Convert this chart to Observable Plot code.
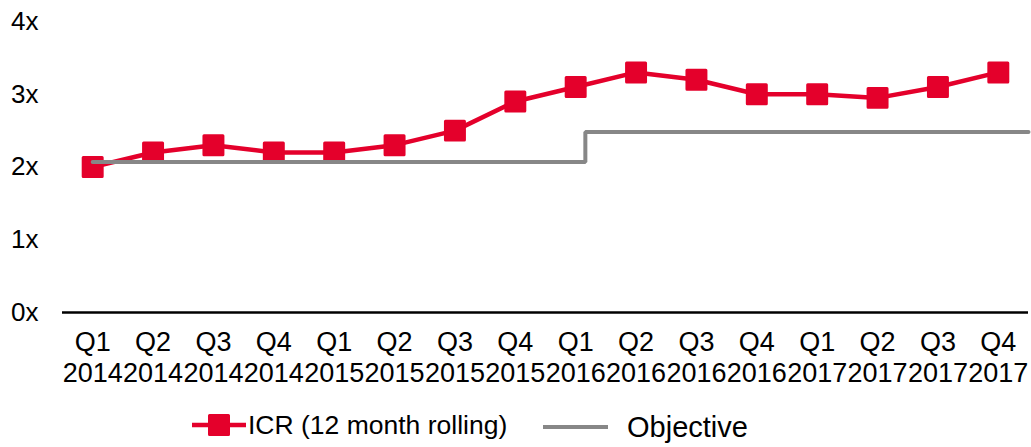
<!DOCTYPE html>
<html>
<head>
<meta charset="utf-8">
<script src="https://cdn.jsdelivr.net/npm/d3@7"></script>
<script src="https://cdn.jsdelivr.net/npm/@observablehq/plot@0.6"></script>
<style>
  html, body { margin: 0; padding: 0; background: #fff; }
  body { font-family: "Liberation Sans", Arial, sans-serif; color: #000; }
  #wrap { position: relative; width: 1031px; height: 447px; }
  #legend { position: absolute; left: 0; top: 400px; width: 1031px; height: 47px; }
  .item { position: absolute; display: flex; align-items: center; height: 47px; top: 0; }
</style>
</head>
<body>
<div id="wrap">
  <div id="chart"></div>
  <div id="legend"></div>
</div>
<script>
// ---- data ----
const quarters = ["Q1","Q2","Q3","Q4","Q1","Q2","Q3","Q4","Q1","Q2","Q3","Q4","Q1","Q2","Q3","Q4"];
const years = ["2014","2014","2014","2014","2015","2015","2015","2015","2016","2016","2016","2016","2017","2017","2017","2017"];
const icr = [2.0, 2.2, 2.3, 2.2, 2.2, 2.3, 2.5, 2.9, 3.1, 3.3, 3.2, 3.0, 3.0, 2.95, 3.1, 3.3];
// objective step (x in quarter-index units)
const objectiveX = [0, 8.16, 8.16, 15.5];
const objectiveY = [2.07, 2.07, 2.48, 2.48];
const yTicks = [0, 1, 2, 3, 4];
const seriesNames = ["ICR (12 month rolling)", "Objective"];

const RED = "#e4002b";
const GRAY = "#878787";

const icrData = icr.map((v, i) => ({i, v}));
const objData = objectiveX.map((x, k) => ({x, v: objectiveY[k]}));
const idx = d3.range(quarters.length);

const chart = Plot.plot({
  width: 1031,
  height: 400,
  marginLeft: 62,
  marginRight: 3,
  marginTop: 21,
  marginBottom: 88,
  style: {fontFamily: "'Liberation Sans', Arial, sans-serif", color: "#000", background: "#fff"},
  x: {domain: [-0.5, quarters.length - 0.5], label: null},
  y: {domain: [0, 4], label: null},
  marks: [
    Plot.axisY(yTicks, {tickFormat: d => d + "x", tickSize: 0, tickPadding: 24, fontSize: 26, label: null}),
    Plot.axisX(idx, {tickFormat: i => quarters[i], tickSize: 0, tickPadding: 19, fontSize: 27, label: null}),
    Plot.axisX(idx, {tickFormat: i => years[i], tickSize: 0, tickPadding: 50, fontSize: 27, label: null}),
    Plot.ruleY([0], {stroke: "#000", strokeWidth: 2.5}),
    Plot.line(icrData, {x: "i", y: "v", stroke: RED, strokeWidth: 4.5}),
    Plot.dot(icrData, {x: "i", y: "v", symbol: "square", r: 10.7, fill: RED, stroke: RED, strokeWidth: 3, strokeLinejoin: "round"}),
    Plot.line(objData, {x: "x", y: "v", stroke: GRAY, strokeWidth: 4, strokeLinejoin: "miter"})
  ]
});
document.getElementById("chart").appendChild(chart);

// ---- legend ----
const legend = document.getElementById("legend");
legend.innerHTML = `
  <div class="item" style="left:192px;">
    <svg width="54" height="47" style="display:block">
      <line x1="0" x2="54" y1="25" y2="25" stroke="${RED}" stroke-width="4.5"/>
      <rect x="17.5" y="15.5" width="19" height="19" fill="${RED}" stroke="${RED}" stroke-width="3" stroke-linejoin="round"/>
    </svg>
    <span style="font-size:26.5px;margin-left:2px;line-height:47px;position:relative;top:2px;">${seriesNames[0]}</span>
  </div>
  <div class="item" style="left:543px;">
    <svg width="66" height="47" style="display:block">
      <line x1="0" x2="65" y1="27" y2="27" stroke="${GRAY}" stroke-width="4"/>
    </svg>
    <span style="font-size:29px;margin-left:18px;line-height:47px;position:relative;top:4px;">${seriesNames[1]}</span>
  </div>`;
</script>
</body>
</html>
